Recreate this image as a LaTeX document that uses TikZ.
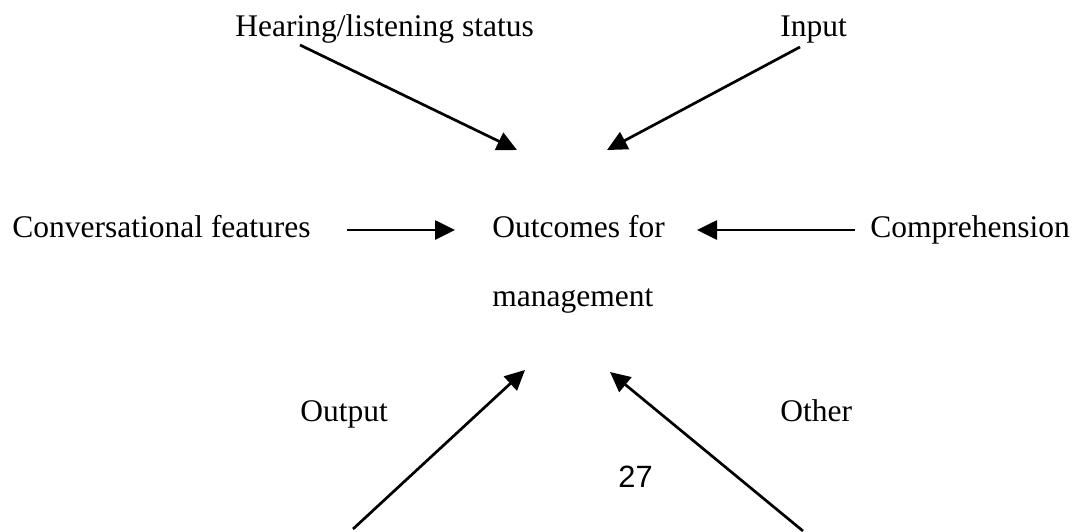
\documentclass[tikz,border=0pt]{standalone}
\usepackage{fontspec}
\setmainfont{Liberation Serif}
\newfontfamily\pagenumfont{Liberation Sans}
\usetikzlibrary{arrows.meta}

\tikzset{
  lbl/.style={anchor=base west, inner sep=0pt, font=\fontsize{15.75}{18}\selectfont},
  toarrow/.style={line width=1.35pt, -{Triangle[length=10pt,width=9.5pt]}}
}

\begin{document}
\begin{tikzpicture}[x=0.5pt,y=-0.5pt]
\useasboundingbox (0,0) rectangle (1081,531);

\node[lbl] (hearing) at (235,36) {Hearing/listening status};
\node[lbl] (input) at (780,36) {Input};

\node[lbl] (conv) at (12,237) {Conversational features};
\node[lbl] (outcomes) at (492,237) {Outcomes for};
\node[lbl] (mgmt) at (492,306) {management};
\node[lbl] (comp) at (870,237) {Comprehension};

\node[lbl] (output) at (300,421) {Output};
\node[lbl] (other) at (780,421) {Other};

\node[anchor=base west, inner sep=0pt, font=\pagenumfont\fontsize{15.4}{18}\selectfont] (pagenum) at (618,487) {27};


\coordinate (hearingS) at (300,45);
\coordinate (hearingT) at (517,150);
\coordinate (inputS) at (800,47);
\coordinate (inputT) at (607,150);

\coordinate (convS) at (347,230);
\coordinate (convT) at (455,230);
\coordinate (compS) at (855,230);
\coordinate (compT) at (697,230);

\coordinate (outputS) at (353,529);
\coordinate (outputT) at (525,370);
\coordinate (otherS) at (803,531);
\coordinate (otherT) at (610,372);


\draw[toarrow] (hearingS) -- (hearingT);
\draw[toarrow] (inputS) -- (inputT);
\draw[toarrow] (convS) -- (convT);
\draw[toarrow] (compS) -- (compT);
\draw[toarrow] (outputS) -- (outputT);
\draw[toarrow] (otherS) -- (otherT);
\end{tikzpicture}
\end{document}
